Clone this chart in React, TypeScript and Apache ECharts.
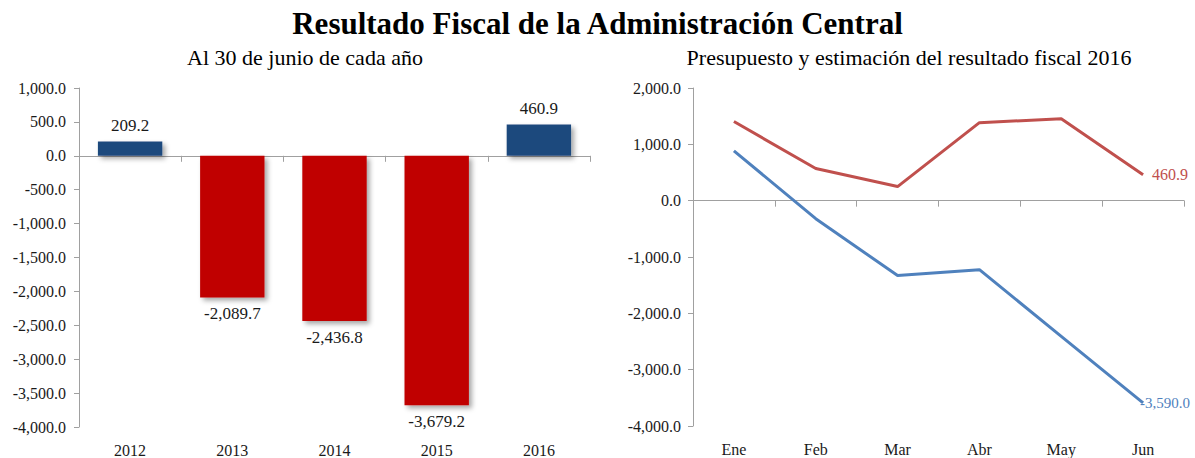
import React, { useEffect, useRef } from "react";
import * as echarts from "echarts";

const years = ["2012", "2013", "2014", "2015", "2016"];
const fiscalResult = [209.2, -2089.7, -2436.8, -3679.2, 460.9];

const months = ["Ene", "Feb", "Mar", "Abr", "May", "Jun"];
const budgetSeries = [1405, 570, 250, 1385, 1455, 460.9];
const estimateSeries = [885, -320, -1330, -1225, -2410, -3590.0];

const TITLE = "Resultado Fiscal de la Administración Central";
const SUB_LEFT = "Al 30 de junio de cada año";
const SUB_RIGHT = "Presupuesto y estimación del resultado fiscal 2016";

const FONT = "Liberation Serif, Times New Roman, serif";
const BLUE_BAR = "#1F497D";
const RED_BAR = "#C00000";
const RED_LINE = "#C0504D";
const BLUE_LINE = "#4F81BD";
const AXIS_COLOR = "#A0A0A0";
const TEXT = "#1a1a1a";

const fmt = (v: number) =>
  v.toLocaleString("en-US", { minimumFractionDigits: 1, maximumFractionDigits: 1 });

export default function App() {
  const ref = useRef<HTMLDivElement>(null);
  useEffect(() => {
    if (!ref.current) return;
    const chart = echarts.init(ref.current, undefined, { renderer: "svg" });
    const yLabel = {
      fontFamily: FONT,
      fontSize: 16,
      color: TEXT,
      margin: 13,
      formatter: (v: number) => fmt(v),
    };
    const catLabel = { fontFamily: FONT, fontSize: 16, color: TEXT, margin: 15 };
    chart.setOption({
      animation: false,
      textStyle: { fontFamily: FONT },
      title: [
        {
          text: TITLE,
          left: "center",
          top: 3,
          textStyle: { fontFamily: FONT, fontSize: 31, fontWeight: "bold", color: "#000" },
        },
        {
          text: SUB_LEFT,
          left: 300,
          textAlign: "center",
          top: 41,
          textStyle: { fontFamily: FONT, fontSize: 22, fontWeight: "normal", color: "#000" },
        },
        {
          text: SUB_RIGHT,
          left: 904,
          textAlign: "center",
          top: 41,
          textStyle: { fontFamily: FONT, fontSize: 22, fontWeight: "normal", color: "#000" },
        },
      ],
      grid: [
        { left: 79, top: 88, width: 511, height: 339 },
        { left: 693, top: 88, width: 491, height: 338 },
      ],
      xAxis: [
        {
          gridIndex: 0,
          type: "category",
          data: years,
          position: "bottom",
          axisLine: { show: false, onZero: false },
          axisTick: { show: false },
          axisLabel: catLabel,
        },
        {
          gridIndex: 0,
          type: "category",
          data: years,
          position: "top",
          axisLine: { show: true, onZero: true, lineStyle: { color: AXIS_COLOR } },
          axisTick: { show: true, inside: true, length: 6, lineStyle: { color: AXIS_COLOR } },
          axisLabel: { show: false },
        },
        {
          gridIndex: 1,
          type: "category",
          data: months,
          position: "bottom",
          axisLine: { show: false, onZero: false },
          axisTick: { show: false },
          axisLabel: catLabel,
        },
        {
          gridIndex: 1,
          type: "category",
          data: months,
          position: "top",
          axisLine: { show: true, onZero: true, lineStyle: { color: AXIS_COLOR } },
          axisTick: { show: true, inside: true, length: 6, lineStyle: { color: AXIS_COLOR } },
          axisLabel: { show: false },
        },
      ],
      yAxis: [
        {
          gridIndex: 0,
          type: "value",
          min: -4000,
          max: 1000,
          interval: 500,
          axisLine: { show: true, lineStyle: { color: AXIS_COLOR } },
          axisTick: { show: true, length: 5, lineStyle: { color: AXIS_COLOR } },
          splitLine: { show: false },
          axisLabel: yLabel,
        },
        {
          gridIndex: 1,
          type: "value",
          min: -4000,
          max: 2000,
          interval: 1000,
          axisLine: { show: true, lineStyle: { color: AXIS_COLOR } },
          axisTick: { show: true, length: 5, lineStyle: { color: AXIS_COLOR } },
          splitLine: { show: false },
          axisLabel: { ...yLabel, margin: 12 },
        },
      ],
      series: [
        {
          type: "bar",
          xAxisIndex: 0,
          yAxisIndex: 0,
          barWidth: "63%",
          data: fiscalResult.map((v) => ({
            value: v,
            itemStyle: {
              color: v >= 0 ? BLUE_BAR : RED_BAR,
              shadowBlur: 5,
              shadowOffsetX: 3,
              shadowOffsetY: 3,
              shadowColor: "rgba(0,0,0,0.35)",
            },
            label: {
              show: true,
              position: v >= 0 ? "top" : "bottom",
              distance: 8,
              fontFamily: FONT,
              fontSize: 17,
              color: TEXT,
              formatter: (p: any) => fmt(p.value),
            },
          })),
        },
        {
          type: "line",
          xAxisIndex: 2,
          yAxisIndex: 1,
          showSymbol: false,
          symbol: "none",
          lineStyle: { color: RED_LINE, width: 3 },
          itemStyle: { color: RED_LINE },
          data: budgetSeries,
          endLabel: {
            show: true,
            distance: 9,
            fontFamily: FONT,
            fontSize: 16,
            color: RED_LINE,
            formatter: (p: any) => fmt(p.value),
          },
        },
        {
          type: "line",
          xAxisIndex: 2,
          yAxisIndex: 1,
          showSymbol: false,
          symbol: "none",
          lineStyle: { color: BLUE_LINE, width: 3 },
          itemStyle: { color: BLUE_LINE },
          data: estimateSeries,
          endLabel: {
            show: true,
            distance: -3,
            fontFamily: FONT,
            fontSize: 15,
            color: BLUE_LINE,
            formatter: (p: any) => fmt(p.value),
          },
        },
      ],
    });
    return () => chart.dispose();
  }, []);
  return (
    <div
      ref={ref}
      style={{ position: "absolute", left: 0, top: 0, width: 1195, height: 458, background: "#fff" }}
    />
  );
}
